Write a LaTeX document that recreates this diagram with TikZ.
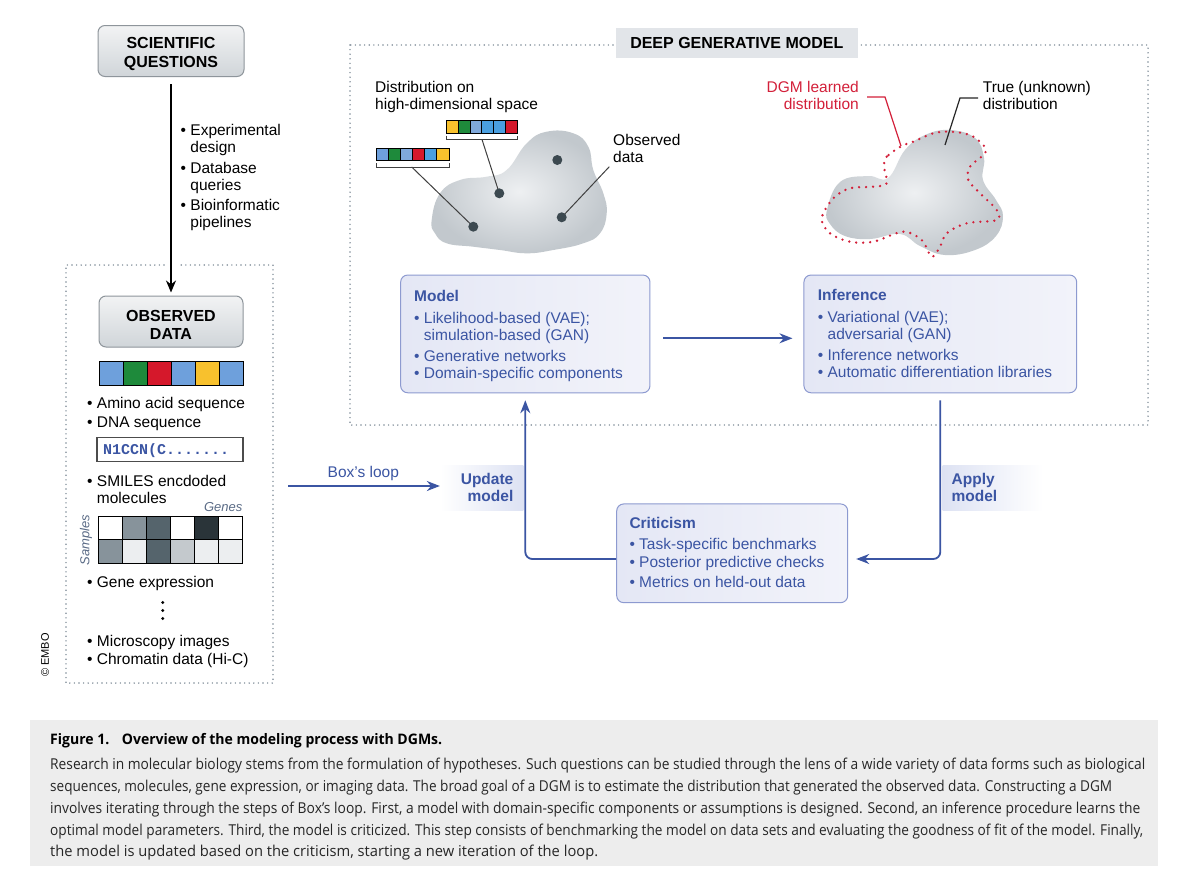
\documentclass[tikz,border=0pt]{standalone}
\usepackage{fontspec}
\setmainfont{Liberation Sans}
\newfontfamily\capfont{Open Sans}
\newfontfamily\smilesfont{Liberation Mono}
\usepackage{graphicx}
\usetikzlibrary{arrows.meta,calc}
\definecolor{dgmblue}{HTML}{3B55A3}
\definecolor{bborder}{HTML}{8D9AD0}
\definecolor{bfillA}{HTML}{E4E7F5}
\definecolor{bfillB}{HTML}{F2F3FA}
\definecolor{gtop}{HTML}{F2F3F4}
\definecolor{gbot}{HTML}{D0D5D9}
\definecolor{gborder}{HTML}{8E959B}
\definecolor{dotgray}{HTML}{7F8C98}
\definecolor{lblgray}{HTML}{E2E5E9}
\definecolor{capgray}{HTML}{EDEDED}
\definecolor{blobin}{HTML}{EEF0F2}
\definecolor{blobout}{HTML}{C2C8CD}
\definecolor{dotdark}{HTML}{3C4950}
\definecolor{dgmred}{HTML}{D3203A}
\definecolor{cblue}{HTML}{6EA0DC}
\definecolor{cgreen}{HTML}{1E8A3B}
\definecolor{cred}{HTML}{D5182B}
\definecolor{cyellow}{HTML}{F8C12D}
\definecolor{clblue}{HTML}{7FA8DB}
\definecolor{cmblue}{HTML}{4A9FE0}
\definecolor{hmA}{HTML}{87939B}
\definecolor{hmB}{HTML}{55646C}
\definecolor{hmC}{HTML}{2A3439}
\definecolor{hmD}{HTML}{ECEEF0}
\definecolor{hmE}{HTML}{C4C9CD}
\definecolor{sampcol}{HTML}{5A6B86}
\definecolor{updblue}{HTML}{DDE2F3}
\newcommand\capline[2]{\resizebox{#1pt}{\height}{#2}}
\newcommand\hb{\hphantom{\textbullet\ }}
\tikzset{
  body/.style={font=\fontsize{15.5}{17}\selectfont, inner sep=0pt, align=left, anchor=north west},
  bluetext/.style={body, text=dgmblue},
  graybox/.style={draw=gborder, line width=1pt, rounded corners=7pt, top color=gtop, bottom color=gbot},
  bluebox/.style={draw=bborder, line width=1pt, rounded corners=7pt, left color=bfillA, right color=bfillB},
  dotbox/.style={draw=dotgray, line width=1.6pt, line cap=round, dash pattern=on 0pt off 4.6pt},
  reddots/.style={draw=dgmred, line width=2.6pt, line cap=round, dash pattern=on 0pt off 7pt},
  barrow/.style={draw=dgmblue, line width=1.8pt, -{Stealth[length=13pt,width=10pt]}},
  karrow/.style={draw=black, line width=1.8pt, -{Stealth[length=12pt,width=10pt]}},
  titletxt/.style={font=\bfseries\fontsize{16}{18.5}\selectfont, align=center, inner sep=0pt},
  leader/.style={draw=black!75, line width=1pt},
  cell/.style={draw=black, line width=0.9pt},
  caption/.style={font=\capfont\fontsize{15}{17}\selectfont, inner sep=0pt, anchor=west, text=black!85}
}
\begin{document}
\begin{tikzpicture}[x=1pt,y=-1pt]
\useasboundingbox (0,0) rectangle (1200,894);
\fill[white] (0,0) rectangle (1200,894);

% ---------- left column ----------
\node[graybox, minimum width=146pt, minimum height=51pt] (sq) at (171,51) {};
\node[titletxt] (sqtxt) at (171,54) {SCIENTIFIC\\QUESTIONS};

\node[body] (sqlist) at (180.5,124.2) {\textbullet\ Experimental\\\hb design\\[3.5pt]\textbullet\ Database\\\hb queries\\[3.5pt]\textbullet\ Bioinformatic\\\hb pipelines};

% observed data dotted frame
\coordinate (odgapL) at (164,265);
\coordinate (odgapR) at (178,265);
\draw[dotbox] (odgapL) -- (66,265) -- (66,683) -- (273,683) -- (273,265) -- (odgapR);

\node[graybox, minimum width=144pt, minimum height=51pt] (od) at (171,321.5) {};
\node[titletxt] (odtxt) at (171,325) {OBSERVED\\DATA};
\draw[karrow, shorten <=7pt, shorten >=3pt] (sq.south) -- (od.north);

% sequence bar
\foreach \c [count=\i from 0] in {cblue,cgreen,cred,cblue,cyellow,cblue}
  \filldraw[cell, fill=\c] (99+24*\i,361) rectangle ++(24,24);

\node[body] (aalist) at (87,397.4) {\textbullet\ Amino acid sequence\\[2pt]\textbullet\ DNA sequence};

\node[draw=black!70, line width=1.2pt, minimum width=146pt, minimum height=24pt, inner sep=0pt] (smiles) at (170,449.7) {};
\node[font=\smilesfont\bfseries\fontsize{15}{17}\selectfont, text=dgmblue, anchor=west, inner sep=0pt] (smilestxt) at (103,450.3) {N1CCN(C.......};

\node[body] (smlist) at (87,474.8) {\textbullet\ SMILES encdoded\\\hb molecules};

\node[font=\itshape\fontsize{13}{15}\selectfont, text=sampcol, anchor=east, inner sep=0pt] (genes) at (242.5,506.7) {Genes};
\node[font=\itshape\fontsize{13}{15}\selectfont, text=sampcol, rotate=90, inner sep=0pt] (samples) at (86,540) {Samples};
\foreach \c [count=\i from 0] in {white,hmA,hmB,white,hmC,white}
  \filldraw[cell, fill=\c] (98.7+24*\i,516) rectangle ++(24,23.6);
\foreach \c [count=\i from 0] in {hmA,hmD,hmB,hmE,hmD,hmD}
  \filldraw[cell, fill=\c] (98.7+24*\i,539.6) rectangle ++(24,23.6);

\node[body] (gelist) at (87,575.8) {\textbullet\ Gene expression};
\foreach \yy in {602.5,610.5,618.5} \fill[black] (162.7,\yy) circle (1.6pt);
\node[body] (milist) at (87,634.8) {\textbullet\ Microscopy images\\[1pt]\textbullet\ Chromatin data (Hi-C)};

\node[font=\fontsize{11}{13}\selectfont, rotate=90, inner sep=0pt] (embo) at (45,655) {\textcopyright\ EMBO};

% ---------- deep generative model frame ----------
\draw[dotbox] (350,45) rectangle (1148,425);
\node[fill=lblgray, minimum width=241.7pt, minimum height=29.4pt, inner sep=0pt, font=\bfseries\fontsize{16}{18}\selectfont] (dgmlbl) at (736.8,43) {DEEP GENERATIVE MODEL};

% left blob
\shade[inner color=blobin, outer color=blobout] plot[smooth cycle, tension=0.75] coordinates {(431.7,220) (440,193.3) (460,180) (486.7,176.7) (506.7,170) (526.7,143.3) (546.7,131.7) (573.3,133.3) (588.3,146.7) (593.3,170) (603.3,193.3) (606.7,213.3) (600,233.3) (583.3,243.3) (553.3,250) (526.7,253.3) (500,250) (473.3,246.7) (446.7,243.3) (435,233.3)};

\node[body] (disttxt) at (375,81.3) {Distribution on\\high-dimensional space};
\node[body] (obstxt) at (613,134.3) {Observed\\data};

\foreach \c [count=\i from 0] in {cyellow,cgreen,clblue,cmblue,cmblue,cred}
  \filldraw[draw=black, line width=0.8pt, fill=\c] (446+11.95*\i,120.7) rectangle ++(11.95,12.6);
\foreach \c [count=\i from 0] in {cblue,cgreen,clblue,cred,cmblue,cyellow}
  \filldraw[draw=black, line width=0.8pt, fill=\c] (376+12.17*\i,148.3) rectangle ++(12.17,11.7);
\draw[leader] (446,135.5) -- (446,139.5) -- (517.7,139.5) -- (517.7,135.5);
\draw[leader] (376,163) -- (376,167) -- (449,167) -- (449,163);

\coordinate (ptA) at (473.3,226.7);
\coordinate (ptB) at (499.3,193.3);
\coordinate (ptC) at (557.3,160);
\coordinate (ptD) at (561.7,217.3);
\draw[leader] (482,139.5) -- (ptB);
\draw[leader] (411.7,167) -- (ptA);
\draw[leader] (609.3,166.7) -- (ptD);
\foreach \p in {ptA,ptB,ptC,ptD} \fill[dotdark] (\p) circle (5pt);

% right blob
\shade[inner color=blobin, outer color=blobout] plot[smooth cycle, tension=0.7] coordinates {(827,210) (840,182) (868,176) (888,178) (905,150) (925,135) (950,130) (975,138) (984,158) (983,180) (996,200) (1003,216) (996,236) (975,250) (945,255) (920,246) (900,234) (870,239) (845,236) (830,224)};
\draw[reddots] plot[smooth cycle, tension=0.55] coordinates {(901.7,146) (886.7,156.7) (884,166.7) (886.7,183.3) (873.3,186.7) (850,188.3) (833.3,198.3) (821.7,218.3) (830,233.3) (850,241.7) (873.3,241.7) (903.3,231.7) (921.7,240) (931.7,256.7) (940,246.7) (946.7,233.3) (966.7,223.3) (996.7,220) (996.7,210) (980,193.3) (968.3,180) (970,166.7) (985,153.3) (983.3,145) (970,135) (950,131.7) (933.3,133.3) (913.3,141.7)};

\node[body, text=dgmred, align=right, anchor=north east] (dgmtxt) at (859,81.3) {DGM learned\\distribution};
\node[body] (truetxt) at (982.7,81.3) {True (unknown)\\distribution};
\coordinate (redend) at (901,146);
\coordinate (blackend) at (945,145);
\draw[draw=dgmred, line width=1.2pt] (867,97) -- (885,97) -- (redend);
\draw[draw=black!85, line width=1.2pt] (978,98) -- (960,98) -- (blackend);

% ---------- Box's loop boxes ----------
\node[bluebox, minimum width=249.3pt, minimum height=117.7pt] (model) at (525.3,333.9) {};
\node[bluetext] (modeltxt) at (414,290.1) {{\bfseries Model}\\[4.5pt]\textbullet\ Likelihood-based (VAE);\\\hb simulation-based (GAN)\\[4pt]\textbullet\ Generative networks\\\textbullet\ Domain-specific components};

\node[bluebox, minimum width=272.7pt, minimum height=117.7pt] (inference) at (940.3,333.9) {};
\node[bluetext] (inftxt) at (817.7,289.1) {{\bfseries Inference}\\[4.5pt]\textbullet\ Variational (VAE);\\\hb adversarial (GAN)\\[4pt]\textbullet\ Inference networks\\\textbullet\ Automatic differentiation libraries};

\node[bluebox, minimum width=231pt, minimum height=98.7pt] (criticism) at (732.2,553.3) {};
\node[bluetext] (crittxt) at (629.3,517.4) {{\bfseries Criticism}\\[3.5pt]\textbullet\ Task-specific benchmarks\\[1.5pt]\textbullet\ Posterior predictive checks\\[2.5pt]\textbullet\ Metrics on held-out data};

\draw[barrow, shorten <=13pt, shorten >=11pt] ([yshift=-4.4pt]model.east) -- ([yshift=-4.4pt]inference.west);

% update / apply labels
\node[left color=white, right color=updblue, minimum width=83.3pt, minimum height=45pt, inner xsep=10pt, inner ysep=0pt, text width=63.3pt, align=right, text=dgmblue, font=\bfseries\fontsize{15.5}{17.5}\selectfont] (update) at (481.7,487.5) {Update\\model};
\node[left color=updblue, right color=white, minimum width=100.3pt, minimum height=45pt, inner xsep=9pt, inner ysep=0pt, text width=82.3pt, align=left, text=dgmblue, font=\bfseries\fontsize{15.5}{17.5}\selectfont] (apply) at (992.8,487.5) {Apply\\model};

\draw[barrow, rounded corners=7pt, shorten >=7pt] ([yshift=-5.7pt]criticism.west) -| (model.south);
\draw[barrow, rounded corners=7pt, shorten <=7pt, shorten >=8pt] (inference.south) |- ([yshift=-5.7pt]criticism.east);

\coordinate (loopstart) at (288.3,486);
\draw[barrow] (loopstart) -- (update.west |- loopstart);
\node[font=\fontsize{15.5}{17}\selectfont, text=dgmblue, inner sep=0pt] (looptxt) at (363.3,473.3) {Box’s loop};

% ---------- caption ----------
\fill[capgray] (30,720) rectangle (1158,866);
\node[caption, font=\capfont\bfseries\fontsize{14.5}{16}\selectfont, text=black] (captitle) at (50,741) {\capline{392}{Figure 1.\hspace{0.9em}Overview of the modeling process with DGMs.}};
\node[caption] (cap1) at (50,766) {\capline{1095}{Research in molecular biology stems from the formulation of hypotheses. Such questions can be studied through the lens of a wide variety of data forms such as biological}};
\node[caption] (cap2) at (50,788) {\capline{1062}{sequences, molecules, gene expression, or imaging data. The broad goal of a DGM is to estimate the distribution that generated the observed data. Constructing a DGM}};
\node[caption] (cap3) at (50,810) {\capline{1090}{involves iterating through the steps of Box’s loop. First, a model with domain-specific components or assumptions is designed. Second, an inference procedure learns the}};
\node[caption] (cap4) at (50,832) {\capline{1093}{optimal model parameters. Third, the model is criticized. This step consists of benchmarking the model on data sets and evaluating the goodness of fit of the model. Finally,}};
\node[caption] (cap5) at (50,853) {\capline{548}{the model is updated based on the criticism, starting a new iteration of the loop.}};
\end{tikzpicture}
\end{document}
